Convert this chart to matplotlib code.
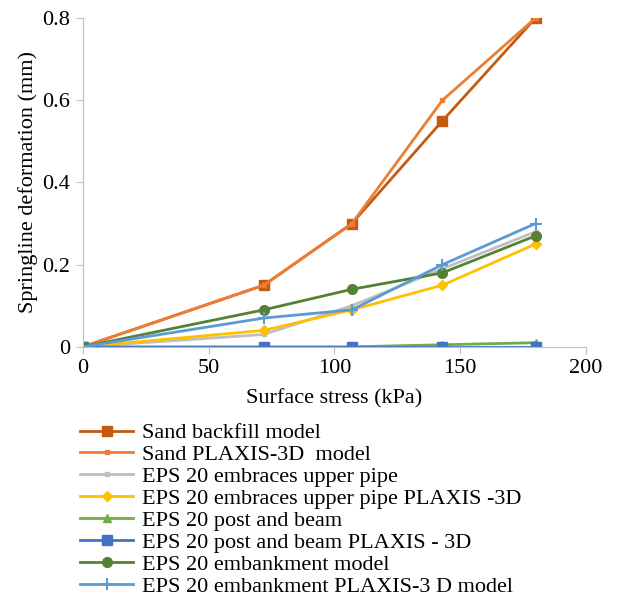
import matplotlib.pyplot as plt

plt.rcParams['font.family'] = ['Liberation Serif', 'DejaVu Serif']

stress = [0, 72, 107, 143, 180]

sand_backfill = [0, 0.15, 0.30, 0.55, 0.80]
sand_plaxis = [0, 0.15, 0.30, 0.60, 0.80]
eps_upper = [0, 0.03, 0.10, 0.19, 0.28]
eps_upper_plaxis = [0, 0.04, 0.09, 0.15, 0.25]
eps_post = [0, 0, 0, 0.005, 0.01]
eps_post_plaxis = [0, 0, 0, 0, 0]
eps_emb = [0, 0.09, 0.14, 0.18, 0.27]
eps_emb_plaxis = [0, 0.07, 0.09, 0.20, 0.30]

labels = ['Sand backfill model',
          'Sand PLAXIS-3D  model',
          'EPS 20 embraces upper pipe',
          'EPS 20 embraces upper pipe PLAXIS -3D',
          'EPS 20 post and beam',
          'EPS 20 post and beam PLAXIS - 3D',
          'EPS 20 embankment model',
          'EPS 20 embankment PLAXIS-3 D model']

fig = plt.figure(figsize=(6.32, 5.99), dpi=100)
ax = fig.add_axes([0.131, 0.421, 0.796, 0.549])

ax.plot(stress, sand_backfill, color='#C55A11', marker='s', ms=7, lw=2, label=labels[0])
ax.plot(stress, sand_plaxis, color='#ED7D31', marker='s', ms=2.5, lw=2, label=labels[1])
ax.plot(stress, eps_upper, color='#BFBFBF', marker='s', ms=2.5, lw=2, label=labels[2])
ax.plot(stress, eps_upper_plaxis, color='#FFC000', marker='D', ms=5.5, lw=2, label=labels[3])
ax.plot(stress, eps_post, color='#70AD47', marker='^', ms=6, lw=2, label=labels[4])
ax.plot(stress, eps_post_plaxis, color='#4472C4', marker='s', ms=7, lw=2, label=labels[5])
ax.plot(stress, eps_emb, color='#548235', marker='o', ms=7, lw=2, label=labels[6])
ax.plot(stress, eps_emb_plaxis, color='#5B9BD5', marker='+', ms=8, mew=1.5, lw=2, label=labels[7])

ax.set_xlim(0, 200)
ax.set_ylim(0, 0.8)
ax.set_xticks([0, 50, 100, 150, 200])
ax.set_yticks([0, 0.2, 0.4, 0.6, 0.8])
ax.set_yticklabels(['0', '0.2', '0.4', '0.6', '0.8'])
for s in ['top', 'right']:
    ax.spines[s].set_visible(False)
for s in ['left', 'bottom']:
    ax.spines[s].set_color('#BFBFBF')
ax.tick_params(colors='#BFBFBF', labelcolor='black', labelsize=16, length=5, pad=4)
ax.set_xlabel('Surface stress (kPa)', fontsize=16, labelpad=8)
ax.set_ylabel('Springline deformation (mm)', fontsize=16, labelpad=3)
for lb in ax.get_xticklabels() + ax.get_yticklabels():
    lb.set_clip_on(False)

fig.legend(loc='upper left', bbox_to_anchor=(0.1125, 0.309), frameon=False,
           fontsize=16, handlelength=2.4, handletextpad=0.4, labelspacing=0.06,
           borderaxespad=0)

fig.savefig('out.png', dpi=100)
